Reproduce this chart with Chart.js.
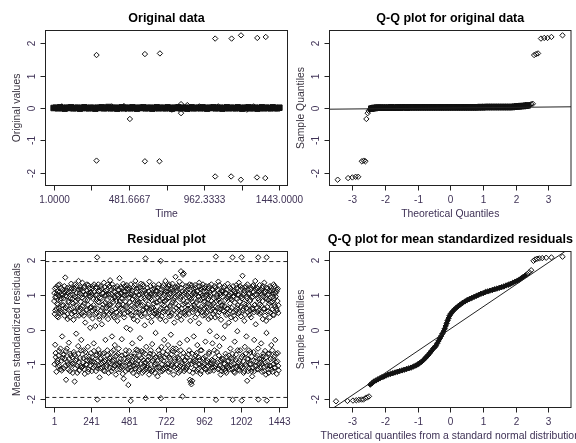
<!DOCTYPE html>
<html>
<head>
<meta charset="utf-8">
<script src="https://cdn.jsdelivr.net/npm/chart.js@4.4.1/dist/chart.umd.min.js"></script>
<style>
  html, body { margin: 0; padding: 0; background: #fff; }
  #wrap { position: relative; width: 576px; height: 443px; overflow: hidden; }
  canvas { position: absolute; }
</style>
</head>
<body>
<div id="wrap">
  <canvas id="origChart" width="320" height="222" style="left:0;top:0"></canvas>
  <canvas id="origQQChart" width="288" height="222" style="left:288px;top:0"></canvas>
  <canvas id="residChart" width="320" height="221" style="left:0;top:222px"></canvas>
  <canvas id="residQQChart" width="288" height="221" style="left:288px;top:222px"></canvas>
</div>
<script>
// Datos: [tiempo, valor] o [cuantil teorico, cuantil muestral]

// Serie original: banda densa en cero
const origBand = [
  [1,0],[15,0.01],[29,-0.01],[43,0.02],[57,0],[71,-0.02],[85,0.01],[99,0],[113,0.02],[127,-0.01],
  [141,0],[155,0.01],[169,-0.02],[183,0],[197,0.02],[211,0],[225,-0.01],[239,0.01],[253,0],[267,-0.02],
  [281,0.01],[295,0],[309,0.02],[323,-0.01],[337,0],[351,0.03],[365,-0.01],[379,0],[393,0.01],[407,-0.02],
  [421,0],[435,0.02],[449,-0.01],[463,0.01],[477,0],[491,-0.01],[505,0.02],[519,0],[533,-0.02],[547,0.01],
  [561,0],[575,0.02],[589,-0.01],[603,0],[617,0.01],[631,-0.02],[645,0],[659,0.02],[673,-0.01],[687,0.01],
  [701,0],[715,-0.01],[729,0.02],[743,0],[757,-0.02],[771,0.01],[785,0],[799,0.02],[813,-0.01],[827,0],
  [841,0.01],[855,-0.02],[869,0],[883,0.02],[897,-0.01],[911,0],[925,0.01],[939,-0.01],[953,0.02],[967,0],
  [981,-0.02],[995,0.01],[1009,0],[1023,0.02],[1037,-0.01],[1051,0],[1065,0.01],[1079,-0.02],[1093,0],[1107,0.02],
  [1121,-0.01],[1135,0.01],[1149,0],[1163,-0.01],[1177,0.02],[1191,0],[1205,-0.02],[1219,0.01],[1233,0],[1247,0.02],
  [1261,-0.01],[1275,0],[1289,0.01],[1303,-0.02],[1317,0],[1331,0.02],[1345,-0.01],[1359,0.01],[1373,0],[1387,-0.01],
  [1401,0.02],[1415,0],[1429,-0.01],[1443,0.01]
];
// Serie original: valores que se separan de la banda
const origOutliers = [
  [53,0.05],[372,0.05],[450,0.06],[463,-0.03],[488,0.02],[488,-0.34],[756,-0.05],[815,0.12],[815,-0.16],
  [855,0.09],[866,-0.03],[932,0.05],[1053,0.05],[1235,-0.05],[1278,0.05],
  [275,1.64],[275,-1.63],[584,1.67],[584,-1.65],[680,1.69],[677,-1.65],
  [1033,2.15],[1033,-2.12],[1138,2.15],[1135,-2.12],[1198,2.25],[1197,-2.22],
  [1302,2.17],[1300,-2.15],[1356,2.2],[1353,-2.17]
];

// Q-Q de la serie original
const origQQBand = [
  [-2.42,-0.02],[-2.38,-0.01],[-2.34,0],[-2.3,0],[-2.25,0.01],[-2.2,0.01],[-2.14,0.01],[-2.08,0.01],
  [-2.02,0.01],[-1.95,0.01],[-1.88,0.01],[-1.81,0.02],[-1.74,0.01],[-1.67,0.01],[-1.6,0.02],[-1.53,0.01],
  [-1.46,0.02],[-1.39,0.02],[-1.32,0.01],[-1.25,0.02],[-1.18,0.02],[-1.11,0.02],[-1.04,0.02],[-0.97,0.02],
  [-0.9,0.02],[-0.83,0.02],[-0.76,0.02],[-0.69,0.02],[-0.62,0.02],[-0.55,0.02],[-0.48,0.02],[-0.41,0.02],
  [-0.34,0.02],[-0.27,0.02],[-0.2,0.02],[-0.13,0.02],[-0.06,0.02],[0.01,0.02],[0.08,0.02],[0.15,0.02],
  [0.22,0.02],[0.29,0.02],[0.36,0.02],[0.43,0.02],[0.5,0.02],[0.57,0.02],[0.64,0.02],[0.71,0.02],
  [0.78,0.02],[0.85,0.02],[0.92,0.03],[0.99,0.02],[1.06,0.03],[1.13,0.03],[1.2,0.03],[1.27,0.03],
  [1.34,0.03],[1.41,0.03],[1.48,0.03],[1.55,0.03],[1.62,0.03],[1.69,0.03],[1.76,0.03],[1.83,0.03],
  [1.9,0.03],[1.97,0.04],[2.04,0.05],[2.1,0.05],[2.17,0.06],[2.24,0.06],[2.31,0.07],[2.37,0.08]
];
const origQQTails = [
  [-3.45,-2.22],[-3.13,-2.17],[-3.0,-2.15],[-2.9,-2.13],[-2.82,-2.13],
  [-2.71,-1.65],[-2.65,-1.63],[-2.6,-1.65],
  [-2.57,-0.34],[-2.53,-0.16],[-2.5,-0.09],[-2.46,-0.04],
  [2.43,0.1],[2.48,0.12],[2.53,0.13],
  [2.57,1.64],[2.63,1.67],[2.69,1.69],
  [2.78,2.15],[2.88,2.17],[2.98,2.17],[3.1,2.2],[3.44,2.25]
];
const origQQLine = [[-4,-0.04],[4,0.04]];

// Residuos medios estandarizados
const residSeries = [
  [3,1.05],[5,0.45],[8,-0.44],[10,0.92],[12,-0.8],[14,1.22],[17,0.6],[19,-0.95],[21,0.75],[24,1.1],[26,-1.08],[28,0.35],
  [31,0.98],[33,-0.62],[36,1.3],[38,0.55],[41,-1.15],[43,0.85],[46,1.02],[48,-0.9],[51,0.5],[53,-0.2],[56,1.15],[58,-0.72],
  [61,0.7],[63,-1.12],[66,1.08],[68,0.4],[71,-0.85],[73,1.5],[76,0.62],[78,-1.45],[81,0.95],[83,-0.55],[86,1.2],[88,0.3],
  [91,-1.0],[93,0.82],[96,-0.38],[98,1.1],[101,0.58],[103,-1.2],[106,0.9],[108,-0.75],[111,1.32],[113,0.45],[116,-0.98],[118,0.78],
  [121,-1.25],[123,1.0],[126,0.28],[128,-0.65],[131,1.18],[133,-1.5],[136,0.52],[138,0.95],[141,-0.9],[143,-0.12],[146,1.25],[148,0.68],
  [151,-1.05],[153,0.88],[156,-0.48],[158,1.4],[161,0.4],[163,-1.18],[166,1.05],[168,-0.82],[171,0.62],[173,1.15],[176,-0.3],[178,-1.1],
  [181,0.92],[183,1.35],[186,-0.95],[188,0.5],[191,-0.6],[193,1.2],[196,0.75],[198,-1.28],[201,0.2],[203,1.02],[206,-0.78],[208,0.55],
  [211,-1.02],[213,1.12],[216,0.85],[218,-0.5],[221,1.28],[223,-1.15],[226,0.42],[228,0.98],[231,-0.88],[233,0.05],[236,1.08],[238,-0.68],
  [241,0.65],[243,-1.2],[246,1.18],[248,0.32],[251,-0.92],[253,0.88],[256,-0.4],[258,1.3],[261,0.6],[263,-1.05],[266,0.1],[268,1.0],
  [271,-0.75],[273,0.48],[276,1.22],[278,2.08],[279,-2.02],[281,-1.12],[283,0.8],[286,-0.58],[288,1.1],[291,0.38],[293,-1.38],[296,0.92],[298,-0.85],
  [301,1.25],[303,0.55],[306,-1.0],[308,0.15],[311,1.05],[313,-0.7],[316,0.72],[318,-1.18],[321,1.35],[323,0.45],[326,-0.92],[328,0.98],
  [331,-0.3],[333,1.12],[336,0.62],[338,-1.08],[341,0.85],[343,-0.6],[346,1.3],[348,0.3],[351,-1.25],[353,1.0],[356,-0.82],[358,0.7],
  [361,1.42],[363,-0.98],[366,0.5],[368,1.15],[371,-0.65],[373,-0.2],[376,0.88],[378,-1.12],[381,1.2],[383,0.4],[386,-0.88],[388,0.95],
  [391,-0.45],[393,1.08],[396,0.6],[398,-1.3],[401,0.82],[403,-0.75],[406,1.25],[408,0.25],[411,-1.0],[413,1.02],[416,-0.55],[418,0.72],
  [421,1.48],[423,-1.15],[426,0.45],[428,1.05],[431,-0.85],[433,0.9],[436,-0.28],[438,1.2],[441,0.58],[443,-1.05],[446,1.32],[448,-1.42],
  [451,0.35],[453,0.98],[456,-0.72],[458,1.1],[461,-1.2],[463,0.68],[466,0.05],[468,1.28],[471,-0.9],[473,0.52],[476,1.0],[478,-1.6],
  [481,1.15],[483,-0.62],[486,0.78],[488,-1.1],[490,0.0],[493,-2.06],[494,1.3],[496,0.42],[498,-0.95],[501,1.05],[503,-0.4],[506,0.88],
  [508,-1.25],[511,1.22],[513,0.3],[516,-0.78],[518,0.95],[521,-1.05],[523,1.4],[526,0.6],[528,-0.58],[531,1.08],[533,-1.32],[536,0.25],[538,0.82],
  [541,-0.9],[543,1.18],[546,0.48],[548,-1.15],[551,1.0],[553,-0.25],[556,0.7],[558,1.32],[561,-0.82],[563,0.38],[566,-1.08],[568,1.12],
  [571,0.55],[573,-0.65],[576,1.25],[578,-1.2],[581,0.9],[583,0.12],[586,-0.95],[588,2.05],[589,-1.98],[591,1.05],[593,-0.5],[596,0.65],[598,-1.1],
  [601,1.2],[603,0.35],[606,-0.88],[608,0.95],[611,-1.3],[613,1.38],[616,0.58],[618,-0.7],[621,1.02],[623,-1.02],[626,0.22],[628,0.85],
  [631,-0.42],[633,1.15],[636,-1.18],[638,0.62],[641,1.28],[643,-0.85],[646,0.45],[648,-1.25],[651,1.0],[653,-0.1],[656,0.78],[658,-0.98],
  [661,1.12],[663,0.4],[666,-1.35],[668,0.92],[671,-0.6],[673,1.3],[676,-1.08],[678,0.55],[681,-0.78],[683,0.3],[686,1.98],[687,-1.98],
  [688,1.05],[691,-0.5],[693,0.72],[696,-1.2],[698,1.22],[701,0.5],[703,-0.9],[706,1.0],[708,-0.3],[711,0.82],[713,-1.12],[716,1.4],[718,0.25],
  [721,-0.72],[723,1.1],[726,0.6],[728,-1.0],[731,0.9],[733,-0.45],[736,1.25],[738,-1.22],[741,0.38],[743,1.0],[746,-0.85],[748,0.7],
  [751,-0.15],[753,1.15],[756,-1.05],[758,0.48],[761,1.32],[763,-0.62],[766,0.85],[768,-1.3],[771,1.05],[773,0.2],[776,-0.92],[778,0.95],
  [781,1.52],[783,-0.55],[786,0.62],[788,-1.15],[791,1.2],[793,0.35],[796,-0.8],[798,1.0],[801,-1.25],[803,0.55],[806,1.38],[808,-0.4],
  [811,0.88],[813,-1.05],[816,1.68],[818,0.28],[821,-0.95],[823,1.1],[826,-1.93],[827,0.72],[829,1.58],[831,-0.68],[833,1.62],[836,-1.2],[838,0.5],
  [841,1.05],[843,-0.88],[846,0.42],[848,1.25],[851,-1.1],[853,0.8],[856,-0.3],[858,1.15],[861,0.6],[863,-1.02],[866,0.95],[868,-0.6],
  [871,1.3],[873,-1.45],[876,0.25],[878,-1.52],[881,0.88],[883,-1.58],[886,1.0],[888,-1.48],[891,0.5],[893,-0.92],[896,1.18],[898,-0.2],
  [901,0.72],[903,-1.15],[906,1.28],[908,0.35],[911,-0.75],[913,1.02],[916,-1.2],[918,0.6],[921,-0.45],[923,1.12],[926,0.85],[928,-1.0],
  [931,0.18],[933,1.35],[936,-0.88],[938,0.55],[941,-1.28],[943,1.05],[946,0.65],[948,-0.6],[951,1.22],[953,-1.05],[956,0.4],[958,0.92],
  [961,-0.82],[963,1.1],[966,0.62],[968,-1.12],[971,0.8],[973,-0.35],[976,1.25],[978,0.48],[981,-0.95],[983,1.0],[986,0.75],[988,-1.22],
  [991,1.18],[993,0.3],[996,-0.7],[998,0.95],[1001,-0.05],[1003,1.08],[1006,-1.02],[1008,0.55],[1011,1.3],[1013,-0.88],[1016,0.7],[1018,-0.4],
  [1021,1.15],[1023,0.45],[1026,-1.18],[1028,0.9],[1031,-0.6],[1033,1.25],[1036,0.35],[1038,-1.05],[1040,2.1],[1041,-2.03],[1043,0.82],[1046,-0.2],
  [1048,1.0],[1051,-0.95],[1053,0.62],[1056,1.38],[1058,-1.12],[1061,0.5],[1063,-0.48],[1066,1.05],[1068,0.78],[1071,-1.3],[1073,0.28],[1076,1.12],[1078,-0.85],
  [1081,0.95],[1083,-1.1],[1086,0.55],[1088,-0.25],[1091,1.2],[1093,-0.98],[1096,0.68],[1098,0.1],[1101,-1.2],[1103,1.05],[1106,0.42],[1108,-0.78],
  [1111,0.9],[1113,-1.05],[1116,1.32],[1118,0.6],[1121,-0.9],[1123,0.2],[1126,1.0],[1128,-1.15],[1131,0.75],[1133,-0.55],[1136,1.18],[1138,0.35],
  [1141,-1.02],[1143,0.85],[1146,-0.7],[1147,2.08],[1148,-2.03],[1151,1.25],[1153,0.5],[1156,-1.22],[1158,0.95],[1161,-0.35],[1163,1.1],[1166,0.3],
  [1168,-0.88],[1171,1.28],[1173,-1.1],[1176,0.62],[1178,-0.05],[1181,1.0],[1183,-0.95],[1186,0.45],[1188,1.35],[1191,-1.18],[1193,0.8],[1196,-0.6],[1198,1.15],
  [1201,0.38],[1203,-1.05],[1205,2.08],[1206,-2.05],[1208,0.9],[1211,1.55],[1213,-0.75],[1216,0.6],[1218,-1.25],[1221,1.05],[1223,0.25],[1226,-0.5],
  [1228,1.2],[1231,-1.0],[1233,0.72],[1236,-0.2],[1238,0.95],[1241,-1.48],[1243,1.3],[1246,0.5],[1248,-0.85],[1251,1.02],[1253,-1.12],[1256,0.42],[1258,0.82],
  [1261,-0.65],[1263,1.15],[1266,0.35],[1268,-1.2],[1271,0.92],[1273,-1.35],[1276,1.25],[1278,0.58],[1281,-0.9],[1283,1.08],[1286,-0.3],[1288,0.7],
  [1291,-1.05],[1293,1.4],[1296,0.15],[1298,-0.8],[1301,1.0],[1303,-1.15],[1306,0.5],[1308,1.18],[1311,-0.55],[1312,2.08],[1313,-2.02],[1316,0.85],[1318,-1.0],
  [1321,1.28],[1323,0.45],[1326,-0.95],[1328,1.05],[1331,-0.4],[1333,0.68],[1336,-1.22],[1338,1.2],[1341,0.3],[1343,-0.78],[1346,0.95],[1348,-1.08],
  [1351,1.35],[1353,0.6],[1356,-0.62],[1358,1.1],[1361,-1.3],[1363,0.25],[1365,-0.1],[1366,2.08],[1367,-2.05],[1368,0.88],[1371,-0.92],[1373,1.18],[1376,0.52],[1378,-1.15],
  [1381,1.02],[1383,-0.7],[1386,0.35],[1388,1.25],[1391,-1.05],[1393,0.78],[1396,-0.45],[1398,1.12],[1401,0.58],[1403,-1.22],[1406,0.95],[1408,-0.85],
  [1411,1.3],[1413,0.42],[1416,-1.1],[1418,0.7],[1421,-0.3],[1423,1.05],[1426,-0.95],[1428,0.6],[1431,-1.28],[1433,1.15],[1436,0.82],[1438,-0.68],[1441,0.48],[1443,-1.18],
  [2,0.82],[4,-1.0],[7,1.18],[9,0.55],[11,-0.68],[13,0.95],[16,-1.22],[18,1.02],[20,0.38],[23,-0.88],[25,0.72],[27,1.28],
  [30,-0.75],[32,0.62],[35,-1.05],[37,1.08],[40,0.48],[42,-0.55],[45,0.9],[47,1.2],[50,-1.18],[52,0.7],[55,-0.82],[57,1.0],
  [62,0.9],[65,-0.72],[67,1.25],[70,0.52],[72,-1.05],[75,0.98],[77,-0.62],[80,1.12],[82,0.68],[85,-0.92],[87,0.45],[90,1.05],
  [92,-1.15],[95,0.78],[97,-0.85],[100,1.2],[102,0.35],[105,-0.7],[107,1.0],[110,-1.02],[112,0.6],[115,1.18],[117,-0.8],[119,0.88],
  [122,0.75],[125,-0.98],[127,1.12],[130,0.5],[132,-0.72],[135,1.3],[137,-1.12],[140,0.82],[142,0.4],[145,-0.85],[147,1.05],[150,-1.25],
  [152,0.62],[155,0.95],[157,-0.7],[160,1.15],[162,-0.95],[165,0.55],[167,1.22],[170,-1.05],[172,0.8],[175,-0.6],[177,1.0],[179,0.45],
  [182,-1.08],[185,0.68],[187,1.1],[190,-0.82],[192,0.4],[195,-1.15],[197,1.25],[200,0.85],[202,-0.65],[205,1.0],[207,-1.0],[210,0.58],
  [212,1.3],[215,-0.9],[217,0.72],[220,-1.22],[222,1.05],[225,0.48],[227,-0.78],[230,1.18],[232,-1.05],[235,0.62],[237,0.95],[239,-0.92],
  [242,1.02],[245,-0.8],[247,0.55],[250,1.25],[252,-1.1],[255,0.7],[257,-0.62],[260,1.08],[262,-0.95],[265,0.45],[267,1.2],[270,-1.2],
  [272,0.85],[275,-0.72],[277,1.0],[280,0.6],[282,-0.9],[285,1.3],[287,-1.05],[290,0.78],[292,0.3],[295,-0.7],[297,1.12],[299,-1.12],
  [302,-0.82],[305,0.9],[307,1.18],[310,-1.1],[312,0.62],[315,-0.95],[317,1.05],[320,0.4],[322,-0.68],[325,1.22],[327,-1.2],[330,0.78],
  [332,-0.88],[335,1.0],[337,0.52],[340,-1.02],[342,1.15],[345,-0.75],[347,0.68],[350,1.02],[352,-0.95],[355,0.45],[357,1.25],[359,-1.1],
  [362,0.72],[365,-0.8],[367,1.02],[370,-1.2],[372,0.55],[375,1.3],[377,-0.92],[380,0.8],[382,-0.6],[385,1.1],[387,0.35],[390,-1.05],
  [392,0.92],[395,-0.78],[397,1.2],[400,-1.0],[402,0.5],[405,0.98],[407,-1.15],[410,0.68],[412,-0.7],[415,1.15],[417,-0.95],[419,0.42],
  [422,0.82],[425,-0.95],[427,1.22],[430,0.6],[432,-1.1],[435,1.05],[437,-0.75],[440,0.9],[442,-1.28],[445,0.72],[447,1.1],[450,-0.85],
  [452,0.45],[455,1.25],[457,-1.05],[460,0.8],[462,-0.6],[465,1.0],[467,-0.95],[470,0.62],[472,1.18],[475,-1.15],[477,0.5],[479,-0.8],
  [482,0.92],[485,-1.0],[487,1.2],[489,0.55],[492,-0.78],[495,1.0],[497,-1.18],[500,0.7],[502,1.12],[505,-0.9],[507,0.4],[510,-1.05],
  [512,0.98],[515,0.65],[517,-0.7],[520,1.28],[522,-1.12],[525,0.82],[527,-0.85],[530,0.5],[532,1.18],[535,-1.0],[537,0.75],[539,-0.6],
  [542,1.0],[545,-1.2],[547,0.78],[550,-0.75],[552,1.22],[555,0.42],[557,-1.0],[560,0.9],[562,-0.62],[565,1.05],[567,-1.25],[570,0.7],
  [572,1.3],[575,-0.88],[577,0.58],[580,-1.05],[582,1.12],[585,0.48],[587,-0.7],[590,0.85],[592,-1.15],[595,1.0],[597,0.62],[599,-0.9],
  [602,-1.05],[605,0.72],[607,1.1],[610,-0.78],[612,0.5],[615,-1.15],[617,0.9],[620,1.25],[622,-0.6],[625,0.62],[627,-1.2],[630,1.05],
  [632,0.38],[635,-0.9],[637,1.0],[640,-0.72],[642,0.75],[645,1.18],[647,-1.02],[650,0.55],[652,-0.8],[655,1.12],[657,0.48],[659,-1.1],
  [662,0.78],[665,-0.9],[667,1.2],[670,0.45],[672,-1.1],[675,1.0],[677,-0.72],[680,0.85],[682,-1.22],[685,0.6],[689,-0.85],[690,1.15],
  [692,0.38],[695,-1.0],[697,0.88],[700,-0.65],[702,1.28],[705,-1.15],[707,0.7],[710,1.05],[712,-0.8],[715,0.52],[717,-1.05],[719,1.1],
  [722,0.85],[725,-1.1],[727,1.18],[730,-0.62],[732,0.5],[735,-0.98],[737,0.92],[740,1.3],[742,-0.8],[745,0.65],[747,-1.15],[750,1.05],
  [752,0.4],[755,-0.72],[757,1.2],[760,-1.0],[762,0.78],[765,-0.55],[767,1.12],[770,0.55],[772,-1.08],[775,0.9],[777,-0.85],[779,1.22],
  [782,0.75],[785,-1.0],[787,1.1],[790,-0.7],[792,0.5],[795,1.25],[797,-1.12],[800,0.68],[802,-0.85],[805,1.05],[807,0.4],[810,-1.2],
  [812,0.95],[815,-0.6],[817,1.2],[820,0.6],[822,-1.0],[825,1.3],[828,-0.8],[830,0.85],[832,-1.1],[835,1.0],[837,0.45],[839,-0.9],
  [842,0.75],[845,-1.15],[847,1.1],[850,0.55],[852,-0.8],[855,1.0],[857,-1.05],[860,0.7],[862,1.25],[865,-0.72],[867,0.45],[870,-1.2],
  [872,0.92],[875,-0.9],[877,1.15],[880,0.62],[882,-1.0],[885,1.28],[887,-0.7],[890,0.8],[892,-1.25],[895,0.58],[897,1.05],[899,-0.85],
  [902,1.0],[905,-0.9],[907,0.65],[910,1.2],[912,-1.05],[915,0.78],[917,-0.68],[920,1.1],[922,0.45],[925,-1.15],[927,0.95],[930,-0.8],
  [932,1.25],[935,0.6],[937,-1.0],[940,0.85],[942,-0.6],[945,1.15],[947,-1.2],[950,0.5],[952,0.98],[955,-0.85],[957,1.3],[959,-1.08],
  [962,0.8],[965,-1.0],[967,1.2],[970,0.42],[972,-0.78],[975,0.95],[977,-1.15],[980,0.65],[982,1.1],[985,-0.9],[987,0.5],[990,-1.05],
  [992,0.88],[995,1.25],[997,-0.65],[1000,0.72],[1002,-1.2],[1005,1.0],[1007,0.35],[1010,-0.95],[1012,0.82],[1015,-1.1],[1017,1.15],[1019,0.6],
  [1022,-0.9],[1025,0.75],[1027,1.05],[1030,-1.1],[1032,0.52],[1035,-0.8],[1037,1.2],[1039,0.65],[1042,-1.0],[1045,0.92],[1047,-0.65],[1050,1.15],
  [1052,0.4],[1055,-1.15],[1057,0.85],[1060,-0.75],[1062,1.28],[1065,-1.05],[1067,0.58],[1070,1.0],[1072,-0.9],[1075,0.7],[1077,-1.2],[1079,1.1],
  [1082,0.7],[1085,-0.85],[1087,1.1],[1090,-1.15],[1092,0.52],[1095,1.25],[1097,-1.0],[1100,0.85],[1102,-0.7],[1105,1.05],[1107,-1.25],[1110,0.6],
  [1112,1.15],[1115,-0.92],[1117,0.45],[1120,-1.1],[1122,0.95],[1125,-0.75],[1127,1.22],[1130,-1.05],[1132,0.55],[1135,0.9],[1137,-0.82],[1139,1.05],
  [1142,0.62],[1145,-1.15],[1149,0.95],[1150,-0.85],[1152,1.12],[1155,0.4],[1157,-1.0],[1160,0.78],[1162,-1.25],[1165,1.05],[1167,0.55],[1170,-0.72],
  [1172,0.9],[1175,-1.05],[1177,1.2],[1180,-0.6],[1182,0.7],[1185,-1.15],[1187,1.0],[1190,0.5],[1192,-0.9],[1195,1.25],[1197,-1.08],[1199,0.65],
  [1202,0.95],[1204,-0.8],[1207,1.2],[1210,-1.1],[1212,0.55],[1215,1.0],[1217,-0.92],[1220,0.75],[1222,-1.2],[1225,1.12],[1227,0.42],[1230,-0.7],
  [1232,1.25],[1235,-1.05],[1237,0.62],[1240,0.9],[1242,-0.85],[1245,1.15],[1247,-1.2],[1250,0.7],[1252,-0.6],[1255,1.05],[1257,-1.0],[1259,0.55],
  [1262,0.85],[1265,-1.0],[1267,1.2],[1270,-0.78],[1272,0.6],[1275,-1.1],[1277,0.95],[1280,1.28],[1282,-0.65],[1285,0.5],[1287,-1.2],[1290,1.0],
  [1292,0.72],[1295,-0.92],[1297,1.15],[1300,-1.05],[1302,0.62],[1305,1.2],[1307,-0.75],[1310,0.9],[1314,-1.15],[1315,0.55],[1317,1.1],[1319,-0.85],
  [1322,0.72],[1325,-1.1],[1327,1.15],[1330,0.5],[1332,-0.85],[1335,1.0],[1337,-1.0],[1340,0.82],[1342,1.25],[1345,-0.7],[1347,0.6],[1350,-1.2],
  [1352,1.05],[1355,0.4],[1357,-0.95],[1360,0.9],[1362,-0.8],[1364,1.2],[1369,-1.05],[1370,0.65],[1372,1.0],[1375,-0.7],[1377,0.85],[1379,-1.25],
  [1382,0.75],[1385,-1.05],[1387,1.1],[1390,0.5],[1392,-0.85],[1395,1.2],[1397,-1.15],[1400,0.8],[1402,-0.6],[1405,1.05],[1407,0.42],[1410,-1.0],
  [1412,0.9],[1415,-0.78],[1417,1.25],[1420,0.65],[1422,-1.1],[1425,0.95],[1427,-0.7],[1430,1.1],[1432,0.55],[1435,-0.92],[1437,1.18],[1440,-1.05],[1442,0.7]
];
const residBounds = [-1.96, 1.96];

// Q-Q de los residuos: tramo central denso y colas
const residQQCurve = [
  [-2.45,-1.59],[-2.4,-1.55],[-2.34,-1.5],[-2.28,-1.47],[-2.22,-1.44],[-2.16,-1.41],[-2.1,-1.38],[-2.04,-1.36],[-1.97,-1.33],[-1.9,-1.3],
  [-1.83,-1.28],[-1.76,-1.26],[-1.69,-1.24],[-1.62,-1.22],[-1.55,-1.2],[-1.48,-1.18],[-1.41,-1.16],[-1.34,-1.14],[-1.27,-1.12],[-1.2,-1.1],
  [-1.13,-1.07],[-1.06,-1.04],[-1.0,-1.01],[-0.94,-0.97],[-0.88,-0.93],[-0.82,-0.88],[-0.77,-0.83],[-0.72,-0.78],[-0.67,-0.73],[-0.62,-0.67],
  [-0.57,-0.61],[-0.52,-0.55],[-0.48,-0.51],[-0.44,-0.47],[-0.4,-0.4],[-0.36,-0.33],[-0.32,-0.26],[-0.28,-0.19],[-0.24,-0.12],[-0.2,-0.05],
  [-0.17,0.02],[-0.14,0.1],[-0.11,0.18],[-0.08,0.26],[-0.05,0.33],[-0.02,0.4],[0.02,0.46],[0.07,0.52],[0.13,0.58],[0.19,0.63],
  [0.25,0.68],[0.31,0.72],[0.38,0.77],[0.45,0.81],[0.52,0.85],[0.59,0.88],[0.66,0.91],[0.73,0.94],[0.8,0.97],[0.87,1.0],
  [0.94,1.03],[1.01,1.05],[1.08,1.08],[1.15,1.1],[1.22,1.12],[1.29,1.14],[1.36,1.16],[1.43,1.18],[1.5,1.2],[1.57,1.22],
  [1.64,1.24],[1.71,1.27],[1.78,1.29],[1.85,1.32],[1.92,1.35],[1.99,1.38],[2.06,1.41],[2.12,1.44],[2.18,1.48],[2.24,1.52],
  [2.3,1.56]
];
const residQQTails = [
  [-3.5,-2.07],[-3.15,-2.06],[-2.98,-2.05],[-2.88,-2.04],[-2.8,-2.03],[-2.72,-2.02],[-2.66,-2.02],[-2.6,-1.98],[-2.54,-1.96],[-2.49,-1.93],
  [2.36,1.6],[2.42,1.65],[2.48,1.71],
  [2.55,1.98],[2.6,2.02],[2.66,2.04],[2.73,2.05],[2.82,2.06],[2.94,2.07],[3.1,2.08],[3.44,2.1]
];
const residQQLine = [[-4,-2.53],[4,2.56]];

// Marcas de los ejes
const timeTicksOrig = [1, 241.33, 481.67, 722, 962.33, 1202.67, 1443];
const timeLabelsOrig = ['1.0000', '', '481.6667', '', '962.3333', '', '1443.0000'];
const timeTicksResid = [1, 241, 481, 722, 962, 1202, 1443];
const timeLabelsResid = ['1', '241', '481', '722', '962', '1202', '1443'];
const quantTicks = [-3, -2, -1, 0, 1, 2, 3];
const valueTicks = [-2, -1, 0, 1, 2];

const FONT = '"Liberation Sans", Arial, sans-serif';
const LABEL_COLOR = '#3f3256';

// Plugin que dibuja ejes al estilo de R (caja, marcas, etiquetas giradas)
const rAxes = {
  id: 'rAxes',
  afterDraw(chart, args, o) {
    const { ctx, chartArea: a, scales } = chart;
    ctx.save();
    ctx.strokeStyle = '#222';
    ctx.lineWidth = 1;
    ctx.strokeRect(a.left, a.top, a.right - a.left, a.bottom - a.top);

    ctx.font = '10px ' + FONT;
    ctx.fillStyle = LABEL_COLOR;
    ctx.textAlign = 'center';
    ctx.textBaseline = 'middle';
    o.xTicks.forEach((v, i) => {
      const px = Math.round(scales.x.getPixelForValue(v)) + 0.5;
      ctx.beginPath();
      ctx.moveTo(px, a.bottom);
      ctx.lineTo(px, a.bottom + 5);
      ctx.stroke();
      const lab = o.xLabels ? o.xLabels[i] : String(v);
      if (lab) ctx.fillText(lab, px, a.bottom + 14.5);
    });
    o.yTicks.forEach(v => {
      const py = Math.round(scales.y.getPixelForValue(v)) + 0.5;
      ctx.beginPath();
      ctx.moveTo(a.left, py);
      ctx.lineTo(a.left - 5, py);
      ctx.stroke();
      ctx.save();
      ctx.translate(a.left - 13.5, py);
      ctx.rotate(-Math.PI / 2);
      ctx.fillText(String(v), 0, 0);
      ctx.restore();
    });

    // titulos de los ejes
    const cx = (a.left + a.right) / 2;
    const cy = (a.top + a.bottom) / 2;
    ctx.font = '10.4px ' + FONT;
    ctx.fillText(o.xTitle, cx, a.bottom + 29);
    ctx.save();
    ctx.fillStyle = '#3a3440';
    ctx.translate(a.left - 28, cy);
    ctx.rotate(-Math.PI / 2);
    ctx.fillText(o.yTitle, 0, 0);
    ctx.restore();

    // titulo principal
    ctx.fillStyle = '#000';
    ctx.font = 'bold 12.5px ' + FONT;
    ctx.fillText(o.title, cx, a.top - 12);
    ctx.restore();
  }
};

// estilo: 'hueco' (rombo vacio), 'banda' (puntos superpuestos en horizontal), 'curva' (rombos rellenos)
function puntos(pares, estilo) {
  const banda = estilo === 'banda';
  return {
    data: pares.map(p => ({ x: p[0], y: p[1] })),
    pointStyle: banda ? 'rect' : 'rectRot',
    pointRadius: banda ? 3.9 : 2.7,
    pointBorderWidth: 1,
    pointBorderColor: '#111',
    pointBackgroundColor: estilo ? '#111' : 'rgba(0,0,0,0)',
    showLine: false
  };
}

function linea(pares, dash) {
  return {
    data: pares.map(p => ({ x: p[0], y: p[1] })),
    showLine: true,
    pointRadius: 0,
    borderColor: '#222',
    borderWidth: 1,
    borderDash: dash || []
  };
}

function crearPanel(id, datasets, xRange, yRange, padding, ejes) {
  return new Chart(document.getElementById(id), {
    type: 'scatter',
    data: { datasets },
    options: {
      responsive: false,
      animation: false,
      events: [],
      layout: { padding },
      scales: {
        x: { type: 'linear', display: false, min: xRange[0], max: xRange[1] },
        y: { type: 'linear', display: false, min: yRange[0], max: yRange[1] }
      },
      plugins: { legend: { display: false }, tooltip: { enabled: false }, rAxes: ejes }
    },
    plugins: [rAxes]
  });
}

crearPanel('origChart', [puntos(origBand, 'banda'), puntos(origOutliers)], [-51, 1495], [-2.4, 2.4],
  { left: 45.5, top: 30.5, right: 32.5, bottom: 36.5 },
  { title: 'Original data', xTitle: 'Time', yTitle: 'Original values',
    xTicks: timeTicksOrig, xLabels: timeLabelsOrig, yTicks: valueTicks });

crearPanel('origQQChart', [linea(origQQLine), puntos(origQQBand, 'banda'), puntos(origQQTails)], [-3.7, 3.7], [-2.4, 2.4],
  { left: 41.5, top: 30.5, right: 2.5, bottom: 36.5 },
  { title: 'Q-Q plot for original data', xTitle: 'Theoretical Quantiles', yTitle: 'Sample Quantiles',
    xTicks: quantTicks, yTicks: valueTicks });

crearPanel('residChart',
  [puntos(residSeries),
   linea([[-100, residBounds[1]], [1600, residBounds[1]]], [4, 3]),
   linea([[-100, residBounds[0]], [1600, residBounds[0]]], [4, 3])],
  [-54, 1500], [-2.25, 2.25],
  { left: 45.5, top: 29.5, right: 32.5, bottom: 35.5 },
  { title: 'Residual plot', xTitle: 'Time', yTitle: 'Mean standardized residuals',
    xTicks: timeTicksResid, xLabels: timeLabelsResid, yTicks: valueTicks });

crearPanel('residQQChart', [linea(residQQLine), puntos(residQQCurve, 'curva'), puntos(residQQTails)], [-3.7, 3.7], [-2.25, 2.25],
  { left: 41.5, top: 29.5, right: 2.5, bottom: 35.5 },
  { title: 'Q-Q plot for mean standardized residuals',
    xTitle: 'Theoretical quantiles from a standard normal distribution', yTitle: 'Sample quantiles',
    xTicks: quantTicks, yTicks: valueTicks });
</script>
</body>
</html>
